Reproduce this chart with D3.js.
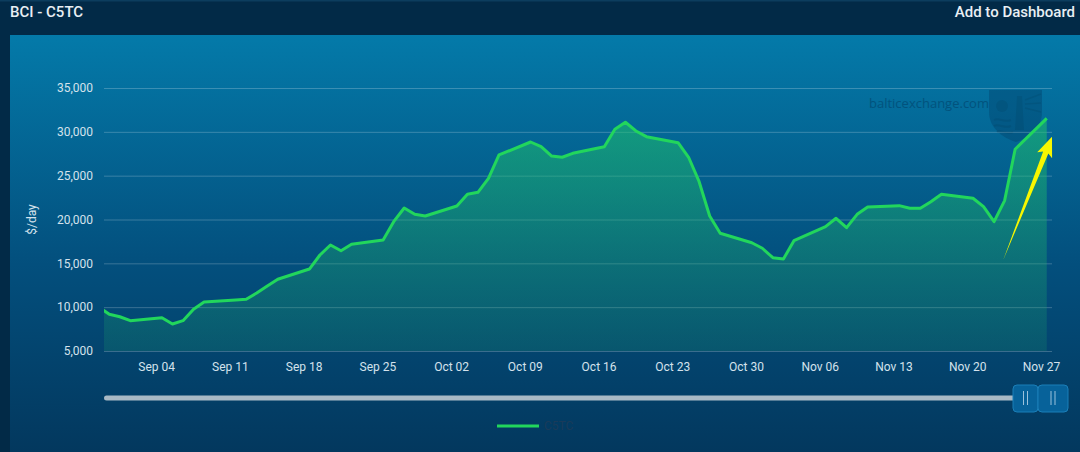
<!DOCTYPE html>
<html>
<head>
<meta charset="utf-8">
<script src="https://cdn.jsdelivr.net/npm/d3@7"></script>
<style>
  body { margin: 0; background: #022a47; }
  svg { display: block; font-family: Roboto, "Open Sans", sans-serif; }
</style>
</head>
<body>
<svg id="canvas" width="1080" height="452"></svg>
<script>
// C5TC daily rates, weekdays (Aug 29 is partly outside the view)
let dates = [
  '2023-08-29','2023-08-30','2023-08-31','2023-09-01',
  '2023-09-04','2023-09-05','2023-09-06','2023-09-07','2023-09-08',
  '2023-09-11','2023-09-12','2023-09-13','2023-09-14','2023-09-15',
  '2023-09-18','2023-09-19','2023-09-20','2023-09-21','2023-09-22',
  '2023-09-25','2023-09-26','2023-09-27','2023-09-28','2023-09-29',
  '2023-10-02','2023-10-03','2023-10-04','2023-10-05','2023-10-06',
  '2023-10-09','2023-10-10','2023-10-11','2023-10-12','2023-10-13',
  '2023-10-16','2023-10-17','2023-10-18','2023-10-19','2023-10-20',
  '2023-10-23','2023-10-24','2023-10-25','2023-10-26','2023-10-27',
  '2023-10-30','2023-10-31','2023-11-01','2023-11-02','2023-11-03',
  '2023-11-06','2023-11-07','2023-11-08','2023-11-09','2023-11-10',
  '2023-11-13','2023-11-14','2023-11-15','2023-11-16','2023-11-17',
  '2023-11-20','2023-11-21','2023-11-22','2023-11-23','2023-11-24',
  '2023-11-27'
];
let c5tc = [
  10010, 9190, 8910, 8460,
  8800, 8080, 8460, 9760, 10590,
  10820, 10900, 11620, 12420, 13180,
  14350, 15950, 17090, 16440, 17170,
  17660, 19750, 21310, 20590, 20400,
  21540, 22880, 23100, 24700, 27360,
  28840, 28300, 27240, 27100, 27550,
  28300, 30290, 31090, 30100, 29450,
  28760, 27100, 24310, 20400, 18430,
  17350, 16720, 15640, 15490, 17580,
  19180, 20140, 19070, 20590, 21430,
  21580, 21280, 21280, 22030, 22880,
  22420, 21460, 19750, 22150, 28010,
  31540
];
let yTicks = [5000, 10000, 15000, 20000, 25000, 30000, 35000];
let viewRange = ['2023-08-30', '2023-11-28'];

let canvas = d3.select('#canvas');
let W = 1080, H = 452;
let plot = { left: 104, right: 1052, top: 88, bottom: 351 };

let parseDay = d3.timeParse('%Y-%m-%d');
// each value is stamped at midday
let points = dates.map((d, i) => {
  return { date: d3.timeHour.offset(parseDay(d), 12), value: c5tc[i] };
});

let xScale = d3.scaleTime()
  .domain(viewRange.map(parseDay))
  .range([plot.left, plot.right]);
let yScale = d3.scaleLinear()
  .domain([5000, 35000])
  .range([plot.bottom, plot.top]);

let defs = canvas.append('defs');

let panelGrad = defs.append('linearGradient')
  .attr('id', 'panelGrad').attr('x1', 0).attr('y1', 0).attr('x2', 0).attr('y2', 1);
panelGrad.append('stop').attr('offset', '0%').attr('stop-color', '#047aa9');
panelGrad.append('stop').attr('offset', '55%').attr('stop-color', '#034f7d');
panelGrad.append('stop').attr('offset', '100%').attr('stop-color', '#03385e');

let areaGrad = defs.append('linearGradient')
  .attr('id', 'areaGrad').attr('gradientUnits', 'userSpaceOnUse')
  .attr('x1', 0).attr('y1', yScale(31500)).attr('x2', 0).attr('y2', plot.bottom);
areaGrad.append('stop').attr('offset', '0%').attr('stop-color', '#1fc46a').attr('stop-opacity', 0.55);
areaGrad.append('stop').attr('offset', '100%').attr('stop-color', '#1fa86a').attr('stop-opacity', 0.18);

defs.append('clipPath').attr('id', 'plotClip')
  .append('rect')
  .attr('x', plot.left).attr('y', 40)
  .attr('width', plot.right - plot.left).attr('height', plot.bottom - 40 + 4);

// header + panel
canvas.append('rect').attr('width', W).attr('height', H).attr('fill', '#022a47');
canvas.append('rect').attr('width', W).attr('height', 1.5).attr('fill', '#0c3d5e');
canvas.append('rect')
  .attr('x', 10).attr('y', 35).attr('width', W - 10).attr('height', H - 35)
  .attr('fill', 'url(#panelGrad)');

canvas.append('text')
  .attr('x', 10).attr('y', 17)
  .attr('fill', '#e9eff4').attr('font-size', 15).attr('font-weight', 500)
  .text('BCI - C5TC');
canvas.append('text')
  .attr('x', 1075).attr('y', 17).attr('text-anchor', 'end')
  .attr('fill', '#e9eff4').attr('font-size', 15).attr('font-weight', 500)
  .text('Add to Dashboard');

// watermark
canvas.append('text')
  .attr('x', 869).attr('y', 108)
  .attr('fill', '#02426a').attr('opacity', 0.6).attr('font-size', 13)
  .attr('font-family', '"Open Sans", sans-serif')
  .text('balticexchange.com');
let logo = canvas.append('g').attr('transform', 'translate(989,90)').attr('opacity', 0.4);
logo.append('path')
  .attr('d', 'M0,0 H53 V22 C53,38 40,48 27,52 C14,48 0,38 0,22 Z')
  .attr('fill', '#02426c');
logo.append('path')
  .attr('d', 'M28,6 L33,6 L35,40 L26,40 Z')
  .attr('fill', '#013356');
logo.append('path')
  .attr('d', 'M36,10 L52,4 M36,14 L52,13 M36,18 L52,22')
  .attr('fill', 'none').attr('stroke', '#013356').attr('stroke-width', 1.5);
logo.append('path')
  .attr('d', 'M5,30 C10,27 15,33 22,30 M5,36 C10,33 15,39 22,36 M8,42 C12,39 17,45 24,42')
  .attr('fill', 'none').attr('stroke', '#013356').attr('stroke-width', 2);
logo.append('circle').attr('cx', 13).attr('cy', 16).attr('r', 6).attr('fill', '#013356');

// grid + y labels
canvas.append('g').selectAll('line')
  .data(yTicks).enter().append('line')
  .attr('x1', plot.left).attr('x2', plot.right)
  .attr('y1', (d) => yScale(d) + 0.5).attr('y2', (d) => yScale(d) + 0.5)
  .attr('stroke', '#ffffff').attr('stroke-opacity', 0.22).attr('stroke-width', 1);

canvas.append('g').selectAll('text')
  .data(yTicks).enter().append('text')
  .attr('x', plot.left - 11).attr('y', (d) => yScale(d))
  .attr('dy', '0.35em').attr('text-anchor', 'end')
  .attr('fill', '#d4e2ec').attr('font-size', 12)
  .text(d3.format(','));

canvas.append('text')
  .attr('transform', 'translate(36,' + ((plot.top + plot.bottom) / 2) + ') rotate(-90)')
  .attr('text-anchor', 'middle')
  .attr('fill', '#d4e2ec').attr('font-size', 12)
  .text('$/day');

// x labels, one per Monday
let xTicks = d3.timeMonday.range(parseDay('2023-09-01'), parseDay('2023-11-28'));
canvas.append('g').selectAll('text')
  .data(xTicks).enter().append('text')
  .attr('x', (d) => xScale(d)).attr('y', 371)
  .attr('text-anchor', 'middle')
  .attr('fill', '#d4e2ec').attr('font-size', 12)
  .text(d3.timeFormat('%b %d'));

// area + line
let series = canvas.append('g').attr('clip-path', 'url(#plotClip)');
let area = d3.area()
  .x((d) => xScale(d.date))
  .y0(yScale(5000))
  .y1((d) => yScale(d.value));
let line = d3.line()
  .x((d) => xScale(d.date))
  .y((d) => yScale(d.value));

series.append('path').datum(points)
  .attr('d', area).attr('fill', 'url(#areaGrad)');
series.append('path').datum(points)
  .attr('d', line)
  .attr('fill', 'none').attr('stroke', '#22d65c').attr('stroke-width', 3)
  .attr('stroke-linejoin', 'round');

// yellow arrow annotation
let tail = [xScale(d3.timeHour.offset(parseDay('2023-11-23'), 9)), yScale(15400)];
let tip = [xScale(d3.timeHour.offset(parseDay('2023-11-28'), 0)), yScale(29450)];
let dx = tip[0] - tail[0], dy = tip[1] - tail[1];
let len = Math.sqrt(dx * dx + dy * dy);
let ux = dx / len, uy = dy / len, nx = -uy, ny = ux;
let at = (s, w) => [tail[0] + ux * s + nx * w, tail[1] + uy * s + ny * w];
let arrowPts = [at(0, 0), at(len - 17, 2.8), at(len - 20, 8), tip, at(len - 20, -8), at(len - 17, -2.8)];
canvas.append('path')
  .attr('d', 'M' + arrowPts.map((p) => p.join(',')).join('L') + 'Z')
  .attr('fill', '#f7f700');

// navigator scrollbar
canvas.append('rect')
  .attr('x', plot.left).attr('y', 395.5).attr('width', 1016 - plot.left).attr('height', 5)
  .attr('rx', 2.5).attr('fill', '#a9b9c5');
[[1013, 25], [1038, 30]].forEach((h) => {
  canvas.append('rect')
    .attr('x', h[0]).attr('y', 385).attr('width', h[1]).attr('height', 27).attr('rx', 4)
    .attr('fill', '#07629a').attr('stroke', '#1b7fb8').attr('stroke-width', 1);
  let cx = h[0] + h[1] / 2;
  [-2, 2].forEach((o) => {
    canvas.append('line')
      .attr('x1', cx + o).attr('x2', cx + o).attr('y1', 391).attr('y2', 405)
      .attr('stroke', '#9cc2dc').attr('stroke-width', 1);
  });
});

// legend
canvas.append('line')
  .attr('x1', 497).attr('x2', 539).attr('y1', 426).attr('y2', 426)
  .attr('stroke', '#22d65c').attr('stroke-width', 3);
canvas.append('text')
  .attr('x', 544).attr('y', 430)
  .attr('fill', '#1a3b5a').attr('font-size', 12)
  .text('C5TC');
</script>
</body>
</html>
